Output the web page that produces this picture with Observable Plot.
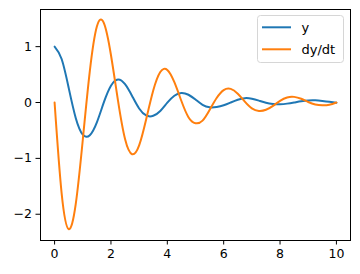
<!DOCTYPE html>
<html>
<head>
<meta charset="utf-8">
<script src="https://cdn.jsdelivr.net/npm/d3@7"></script>
<script src="https://cdn.jsdelivr.net/npm/@observablehq/plot@0.6"></script>
<style>
  body { margin: 0; background: #fff; }
  #chart { position: relative; width: 360px; height: 274px; font-family: "DejaVu Sans", sans-serif; }
  #legend { position: absolute; left: 257px; top: 15px; }
</style>
</head>
<body>
<div id="chart"></div>
<script>
// time samples
const tValues = [0, 0.25, 0.5, 0.75, 1, 1.25, 1.5, 1.75, 2, 2.25, 2.5, 2.75, 3, 3.25, 3.5, 3.75, 4, 4.25, 4.5, 4.75,
  5, 5.25, 5.5, 5.75, 6, 6.25, 6.5, 6.75, 7, 7.25, 7.5, 7.75, 8, 8.25, 8.5, 8.75, 9, 9.25, 9.5, 9.75, 10];
// series "y"
const yValues = [1.000, 0.778, 0.262, -0.276, -0.575, -0.585, -0.355, 0.007, 0.301, 0.414, 0.329, 0.118, -0.106, -0.232, -0.238,
  -0.152, -0.003, 0.121, 0.171, 0.139, 0.053, -0.041, -0.085, -0.080, -0.050, 0.000, 0.050, 0.078, 0.068, 0.033,
  -0.005, -0.025, -0.030, -0.020, 0.000, 0.022, 0.038, 0.040, 0.028, 0.012, -0.003];
// series "dy/dt"
const dydtValues = [0, -1.626, -2.267, -1.820, -0.671, 0.562, 1.360, 1.420, 0.850, 0.033, -0.654, -0.925, -0.768, -0.300, 0.215,
  0.546, 0.584, 0.364, 0.027, -0.262, -0.370, -0.324, -0.133, 0.081, 0.223, 0.244, 0.156, 0.017, -0.105, -0.150,
  -0.130, -0.059, 0.030, 0.091, 0.101, 0.067, 0.009, -0.035, -0.050, -0.040, 0.000];
const seriesNames = ["y", "dy/dt"];
const seriesColors = ["#1f77b4", "#ff7f0e"];
const xTicks = [0, 2, 4, 6, 8, 10];
const yTicks = [-2, -1, 0, 1];

const rows = [];
tValues.forEach((t, i) => rows.push({t, value: yValues[i], series: seriesNames[0]}));
tValues.forEach((t, i) => rows.push({t, value: dydtValues[i], series: seriesNames[1]}));

const intFmt = d3.format("d");

const chart = Plot.plot({
  width: 360,
  height: 274,
  marginLeft: 40,
  marginRight: 10,
  marginTop: 9,
  marginBottom: 34,
  style: {fontFamily: "DejaVu Sans, sans-serif", fontSize: "12.5px", color: "black", background: "white", overflow: "visible"},
  x: {domain: [-0.5, 10.5], label: null},
  y: {domain: [-2.47, 1.665], label: null},
  color: {domain: seriesNames, range: seriesColors},
  marks: [
    Plot.line(rows, {x: "t", y: "value", z: "series", stroke: "series", strokeWidth: 2, curve: "natural"}),
    Plot.axisX({ticks: xTicks, tickSize: 4.5, tickPadding: 4, tickFormat: intFmt, label: null, stroke: "black", strokeWidth: 1}),
    Plot.axisY({ticks: yTicks, tickSize: 4.5, tickPadding: 4, tickFormat: intFmt, label: null, stroke: "black", strokeWidth: 1}),
    Plot.frame({stroke: "black", strokeWidth: 1})
  ]
});
document.getElementById("chart").appendChild(chart);

// legend
const ns = "http://www.w3.org/2000/svg";
const leg = document.createElementNS(ns, "svg");
leg.setAttribute("id", "legend");
leg.setAttribute("width", 88);
leg.setAttribute("height", 49);
const box = document.createElementNS(ns, "rect");
box.setAttribute("x", 0.5); box.setAttribute("y", 0.5);
box.setAttribute("width", 86); box.setAttribute("height", 47);
box.setAttribute("rx", 3);
box.setAttribute("fill", "rgba(255,255,255,0.8)");
box.setAttribute("stroke", "#d6d6d6");
leg.appendChild(box);
seriesNames.forEach((name, i) => {
  const cy = 12.3 + i * 22;
  const ln = document.createElementNS(ns, "line");
  ln.setAttribute("x1", 5); ln.setAttribute("x2", 34);
  ln.setAttribute("y1", cy); ln.setAttribute("y2", cy);
  ln.setAttribute("stroke", seriesColors[i]);
  ln.setAttribute("stroke-width", 2);
  leg.appendChild(ln);
  const tx = document.createElementNS(ns, "text");
  tx.setAttribute("x", 44.5);
  tx.setAttribute("y", cy + 4.7);
  tx.setAttribute("font-family", "DejaVu Sans, sans-serif");
  tx.setAttribute("font-size", "13px");
  tx.setAttribute("fill", "black");
  tx.textContent = name;
  leg.appendChild(tx);
});
document.getElementById("chart").appendChild(leg);
</script>
</body>
</html>
